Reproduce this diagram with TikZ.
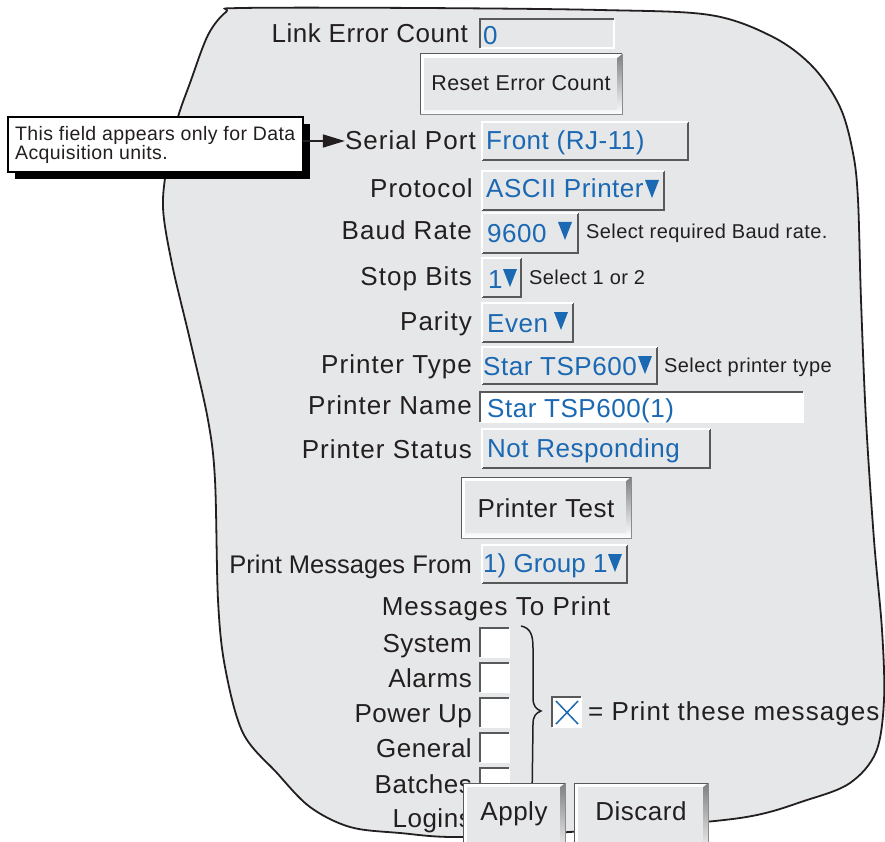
\documentclass[tikz,border=0pt]{standalone}
\usepackage{fontspec}
\setmainfont{Liberation Sans}[LetterSpace=2]
\usetikzlibrary{arrows.meta}
\definecolor{panel}{HTML}{E6E7E8}
\definecolor{ink}{HTML}{231F20}
\definecolor{val}{HTML}{1B68B3}
\definecolor{shade}{HTML}{A0A2A5}
\definecolor{edge}{HTML}{58595B}
\newcommand\rfield[4]{%
  \fill[panel] (#1,#2) rectangle (#3,#4);
  \draw[edge, line width=1.2] (#1,#4) -- (#3,#4) -- (#3,#2);
  \draw[white, line width=1.6] (#1,#4) -- (#1,#2) -- (#3,#2);}
\newcommand\sfield[5]{%
  \fill[#5] (#1,#2) rectangle (#3,#4);
  \draw[white, line width=1.6] (#1,#4) -- (#3,#4) -- (#3,#2);
  \draw[edge, line width=1.2] (#1,#4) -- (#1,#2) -- (#3,#2);}
\newcommand\bevbutton[4]{%
  \fill[shade] (#1,#2) rectangle (#3,#4);
  \fill[white] (#1,#4) -- (#1,#2) -- (#3,#2) -- (#3-5,#2+4) -- (#1+4,#2+4) -- (#1+4,#4-5) -- cycle;
  \fill[panel] (#1+4,#2+4) rectangle (#3-5,#4-5);
  \draw[edge, line width=1] (#1,#4) -- (#1,#2) -- (#3,#2);
  \draw[edge!70, line width=1] (#3,#2) -- (#3,#4) -- (#1,#4);}
\newcommand\tri[2]{\fill[val] (#1,#2-18) -- (#1+14,#2-18) -- (#1+7,#2) -- cycle;}
\tikzset{
  lab/.style={anchor=base east, text=ink, inner sep=0pt, font=\fontsize{26}{30}\selectfont},
  vals/.style={anchor=base west, text=val, inner sep=0pt, font=\fontsize{26}{30}\selectfont},
  hint/.style={anchor=base west, text=ink, inner sep=0pt, font=\fontsize{20}{24}\selectfont},
  btn/.style={anchor=base, text=ink, inner sep=0pt, font=\fontsize{26}{30}\selectfont},
  wide/.style={font=\fontsize{26}{30}\selectfont\addfontfeature{LetterSpace=4}},
}
\begin{document}
\begin{tikzpicture}[x=1pt,y=-1pt]
\useasboundingbox (0,0) rectangle (885,842);
\clip (0,0) rectangle (885,842);
% panel outline
\draw[ink, line width=1.8, fill=panel] plot[smooth cycle, tension=0.55] coordinates {
 (242,8) (420,8) (600,10) (710,15) (773,37) (813,67) (840,107) (853,153) (858,200)
 (861,300) (866,420) (874,540) (882,630) (884,700) (876,752) (850,783) (807,800)
 (740,818) (600,830) (463,837) (400,833) (350,827) (310,807) (277,773) (243,733)
 (225,667) (218,600) (215,480) (208,420) (190,340) (172,264) (163,207) (168,160)
 (178,117) (190,83) (208,35) (226,12)};
% callout
\fill[black] (15,124) rectangle (310,179);
\draw[black, line width=1.5, fill=white] (8,117) rectangle (303,172);
\node[anchor=base west, text=ink, inner sep=0pt, font=\fontsize{19.5}{19.5}\selectfont] (note1) at (15,141) {This field appears only for Data};
\node[anchor=base west, text=ink, inner sep=0pt, font=\fontsize{19.5}{19.5}\selectfont] (note2) at (15,160) {Acquisition units.};
\coordinate (callr) at (303,141);
% Link error count
\sfield{480}{19}{614}{48}{panel}
\node[lab] (lec) at (468,43) {Link Error Count};
\node[vals] (lecv) at (483,45) {0};
% Reset button
\bevbutton{420}{54}{622}{115}
\node[btn, font=\fontsize{21.5}{24}\selectfont] (reset) at (521,91) {Reset Error Count};
% Serial port
\rfield{482}{122}{688}{160}
\node[lab, wide] (sp) at (476,150) {Serial Port};
\node[vals] (spv) at (486,150) {Front (RJ-11)};
\draw[ink, line width=1.6, -{Triangle[length=22pt,width=13pt]}] (callr) -- (sp.west |- callr);
% Protocol
\rfield{482}{171}{664}{210}
\node[lab, wide] (pr) at (473,198) {Protocol};
\node[vals] (prv) at (486,198) {ASCII Printer};
\tri{645}{198}
% Baud
\rfield{482}{213}{578}{253}
\node[lab, wide] (br) at (472,240) {Baud Rate};
\node[vals] (brv) at (487,242) {9600};
\tri{558}{240}
\node[hint] (brh) at (586,238) {Select required Baud rate.};
% Stop bits
\rfield{482}{258}{521}{297}
\node[lab, wide] (sb) at (472,285) {Stop Bits};
\node[vals] (sbv) at (488,288) {1};
\tri{503}{287}
\node[hint] (sbh) at (529,284) {Select 1 or 2};
% Parity
\rfield{482}{303}{573}{342}
\node[lab, wide] (pa) at (472,330) {Parity};
\node[vals] (pav) at (487,332) {Even};
\tri{554}{330}
% Printer type
\rfield{482}{347}{657}{384}
\node[lab, wide] (pt) at (472,373) {Printer Type};
\node[vals] (ptv) at (483,375) {Star TSP600};
\tri{638}{374}
\node[hint] (pth) at (664,372) {Select printer type};
% Printer name
\sfield{480}{392}{803}{422}{white}
\node[lab, wide] (pn) at (472,414) {Printer Name};
\node[vals] (pnv) at (487,417) {Star TSP600(1)};
% Printer status
\rfield{482}{429}{710}{468}
\node[lab, wide] (ps) at (472,458) {Printer Status};
\node[vals] (psv) at (487,457) {Not Responding};
% Printer test
\bevbutton{461}{477}{631}{538}
\node[btn] (ptest) at (546,517) {Printer Test};
% Print messages from
\rfield{482}{545}{627}{583}
\node[lab, font=\fontsize{25.5}{30}\selectfont\addfontfeature{LetterSpace=0}] (pmf) at (472,573) {Print Messages From};
\node[vals, font=\fontsize{26}{30}\selectfont\addfontfeature{LetterSpace=0}] (pmfv) at (483,572) {1) Group 1};
\tri{608}{572}
% Messages to print
\node[btn, wide] (mtp) at (496,615) {Messages To Print};
\foreach \t/\b/\n [count=\i] in {628/652/System, 663/687/Alarms, 698/722/Power Up, 733/757/General, 768/793/Batches, 803/827/Logins}{
  \node[lab] (m\i) at (472,\b) {\n};
  \sfield{480}{\t}{509}{\t+29}{white}
}
% brace
\draw[ink, line width=1.5] (521,626) .. controls (531,628) and (533,636) .. (533,648)
  -- (533,698) .. controls (533,706) and (536,709) .. (541,711)
  .. controls (536,713) and (533,716) .. (533,724) -- (532,800);
% checked box
\sfield{552}{697}{581}{727}{white}
\draw[val, line width=1.5] (556,701) -- (578,724) (578,701) -- (556,724);
\node[anchor=base west, text=ink, inner sep=0pt, wide] (leg) at (588,720) {= Print these messages};
% Apply / Discard
\bevbutton{463}{783}{565}{860}
\node[btn] (apply) at (514,820) {Apply};
\bevbutton{574}{783}{708}{860}
\node[btn] (discard) at (641,820) {Discard};
\end{tikzpicture}
\end{document}
